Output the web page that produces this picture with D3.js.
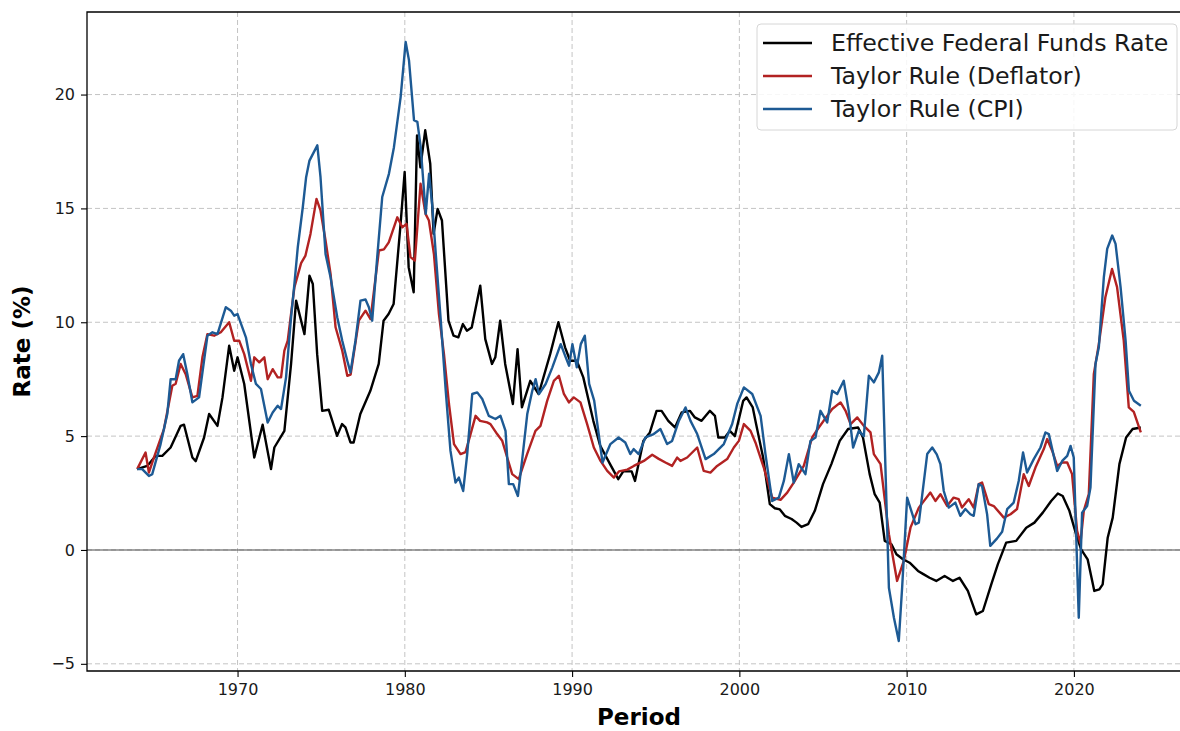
<!DOCTYPE html>
<html>
<head>
<meta charset="utf-8">
<title>Taylor Rule vs Effective Federal Funds Rate</title>
<script src="https://cdn.jsdelivr.net/npm/d3@7"></script>
<style>
  html, body { margin: 0; padding: 0; background: #fff; }
  svg { display: block; font-family: "DejaVu Sans", sans-serif; }
</style>
</head>
<body>
<div id="diagram"></div>
<script>
// data: [period, rate %]
const effrPoints = [
  [1964.0, 3.55], [1964.6, 3.69], [1965.1, 4.13], [1965.5, 4.13], [1966.0, 4.5], [1966.6, 5.45],
  [1966.8, 5.5], [1967.3, 4.06], [1967.5, 3.9], [1968.0, 4.94], [1968.3, 5.97], [1968.8, 5.45],
  [1969.1, 6.7], [1969.5, 8.97], [1969.8, 7.87], [1970.0, 8.46], [1970.4, 7.29], [1971.0, 4.06],
  [1971.5, 5.5], [1972.0, 3.55], [1972.2, 4.5], [1972.8, 5.23], [1973.2, 8.17], [1973.5, 10.95],
  [1974.0, 9.48], [1974.3, 12.05], [1974.5, 11.68], [1974.76, 8.6], [1975.06, 6.11], [1975.45, 6.16],
  [1975.95, 5.01], [1976.25, 5.53], [1976.45, 5.38], [1976.75, 4.72], [1976.94, 4.72], [1977.34, 5.97],
  [1977.94, 6.99], [1978.44, 8.17], [1978.73, 10.07], [1979.03, 10.36], [1979.33, 10.8], [1979.73, 14.17],
  [1979.99, 16.6], [1980.23, 12.42], [1980.53, 11.32], [1980.73, 18.2], [1980.93, 16.8], [1981.22, 18.43],
  [1981.52, 16.96], [1981.72, 13.88], [1981.96, 14.98], [1982.22, 14.47], [1982.61, 10.07], [1982.91, 9.41],
  [1983.2, 9.34], [1983.47, 9.92], [1983.71, 9.63], [1984.0, 9.77], [1984.51, 11.61], [1984.81, 9.26],
  [1985.21, 8.17], [1985.41, 8.46], [1985.7, 10.07], [1986.0, 8.17], [1986.46, 6.41], [1986.74, 8.82],
  [1987.0, 6.26], [1987.5, 7.43], [1988.0, 6.85], [1988.69, 8.6], [1989.18, 10.0], [1989.58, 8.9],
  [1989.88, 8.31], [1990.28, 8.31], [1990.67, 7.58], [1991.27, 5.67], [1991.67, 4.6], [1992.27, 3.77],
  [1992.76, 3.11], [1993.06, 3.45], [1993.56, 3.45], [1993.76, 3.03], [1994.26, 4.79], [1994.65, 5.16],
  [1995.05, 6.11], [1995.35, 6.11], [1995.75, 5.67], [1996.15, 5.38], [1996.55, 6.04], [1997.04, 6.11],
  [1997.34, 5.82], [1997.74, 5.67], [1998.24, 6.11], [1998.54, 5.89], [1998.74, 4.94], [1999.13, 4.94],
  [1999.43, 5.23], [1999.73, 5.0], [2000.23, 6.55], [2000.43, 6.7], [2000.8, 6.26], [2001.0, 5.53],
  [2001.42, 4.06], [2001.82, 2.01], [2002.12, 1.83], [2002.42, 1.78], [2002.72, 1.5], [2003.12, 1.36],
  [2003.42, 1.2], [2003.71, 1.01], [2004.11, 1.13], [2004.51, 1.72], [2005.0, 2.89], [2005.5, 3.77],
  [2006.0, 4.79], [2006.5, 5.31], [2007.1, 5.38], [2007.39, 4.94], [2007.79, 3.33], [2008.09, 2.45],
  [2008.39, 2.08], [2008.69, 0.4], [2009.09, 0.25], [2009.39, -0.19], [2009.78, -0.41], [2010.18, -0.56],
  [2010.68, -0.92], [2011.0, -1.06], [2011.37, -1.22], [2011.77, -1.36], [2012.27, -1.14], [2012.77, -1.36],
  [2013.16, -1.22], [2013.66, -1.8], [2014.16, -2.83], [2014.56, -2.68], [2015.06, -1.51], [2015.45, -0.63],
  [2015.95, 0.32], [2016.55, 0.4], [2017.15, 0.98], [2017.64, 1.2], [2018.14, 1.64], [2018.64, 2.15],
  [2019.04, 2.48], [2019.33, 2.37], [2019.73, 1.72], [2020.13, 0.69], [2020.43, 0.03], [2020.82, -0.41],
  [2021.22, -1.8], [2021.52, -1.73], [2021.72, -1.51], [2022.02, 0.54], [2022.32, 1.42], [2022.72, 3.77],
  [2023.12, 4.94], [2023.51, 5.31], [2024.0, 5.38]
];

const deflatorPoints = [
  [1964.0, 3.55], [1964.5, 4.28], [1964.7, 3.4], [1965.0, 4.06], [1965.6, 5.31], [1966.1, 7.21],
  [1966.3, 7.3], [1966.6, 8.17], [1966.9, 7.72], [1967.3, 6.7], [1967.6, 6.77], [1967.9, 8.46],
  [1968.2, 9.48], [1968.6, 9.41], [1969.0, 9.56], [1969.5, 10.0], [1969.8, 9.19], [1970.1, 9.19],
  [1970.4, 8.6], [1970.8, 7.43], [1971.0, 8.46], [1971.3, 8.24], [1971.6, 8.46], [1971.8, 7.5],
  [1972.1, 7.94], [1972.4, 7.58], [1972.6, 7.58], [1972.8, 8.75], [1973.0, 9.19], [1973.4, 11.54],
  [1973.8, 12.6], [1974.06, 12.93], [1974.36, 13.88], [1974.72, 15.42], [1974.96, 14.91], [1975.26, 13.59],
  [1975.56, 12.12], [1975.86, 9.78], [1976.26, 8.75], [1976.56, 7.65], [1976.76, 7.7], [1977.25, 10.07],
  [1977.65, 10.51], [1977.95, 10.14], [1978.45, 13.15], [1978.75, 13.2], [1979.04, 13.51], [1979.55, 14.61],
  [1979.85, 14.17], [1980.1, 14.32], [1980.34, 12.86], [1980.6, 12.71], [1980.94, 16.08], [1981.24, 14.76],
  [1981.44, 14.47], [1981.74, 13.0], [1982.04, 10.36], [1982.34, 8.6], [1982.64, 6.41], [1982.94, 4.65],
  [1983.33, 4.21], [1983.63, 4.3], [1983.93, 5.09], [1984.23, 5.89], [1984.5, 5.67], [1984.92, 5.6],
  [1985.12, 5.53], [1985.52, 5.09], [1985.82, 4.8], [1986.12, 4.06], [1986.42, 3.33], [1986.81, 3.11],
  [1987.31, 4.21], [1987.81, 5.23], [1988.11, 5.45], [1988.51, 6.55], [1988.91, 7.43], [1989.21, 7.65],
  [1989.51, 6.85], [1989.81, 6.48], [1990.1, 6.7], [1990.5, 6.48], [1990.9, 5.53], [1991.3, 4.5],
  [1991.7, 3.91], [1992.1, 3.47], [1992.5, 3.18], [1992.8, 3.45], [1993.3, 3.53], [1993.69, 3.69],
  [1994.29, 3.91], [1994.79, 4.18], [1995.18, 4.0], [1995.58, 3.84], [1995.98, 3.69], [1996.28, 4.06],
  [1996.48, 3.91], [1996.88, 4.06], [1997.48, 4.5], [1997.87, 3.47], [1998.27, 3.4], [1998.67, 3.69],
  [1999.27, 3.99], [1999.67, 4.5], [1999.97, 4.79], [2000.27, 5.53], [2000.67, 5.23], [2000.96, 4.72],
  [2001.46, 3.62], [2001.96, 2.3], [2002.46, 2.2], [2002.86, 2.52], [2003.25, 2.96], [2003.85, 3.69],
  [2004.35, 4.94], [2004.75, 5.38], [2005.25, 5.89], [2005.55, 6.19], [2006.05, 6.48], [2006.35, 6.11],
  [2006.65, 5.53], [2007.05, 5.82], [2007.44, 5.45], [2007.84, 5.16], [2008.04, 4.21], [2008.44, 3.77],
  [2008.94, 0.69], [2009.43, -1.36], [2009.83, -0.48], [2010.23, 0.98], [2010.73, 1.86], [2011.42, 2.52],
  [2011.72, 2.15], [2012.02, 2.45], [2012.42, 1.93], [2012.81, 2.3], [2013.11, 2.23], [2013.31, 1.86],
  [2013.71, 2.23], [2014.01, 1.86], [2014.31, 2.89], [2014.51, 2.96], [2014.91, 2.01], [2015.21, 1.93],
  [2015.81, 1.42], [2016.21, 1.57], [2016.6, 1.8], [2017.0, 3.33], [2017.3, 2.81], [2017.7, 3.62],
  [2018.2, 4.43], [2018.4, 4.87], [2018.7, 4.36], [2019.0, 3.69], [2019.3, 3.84], [2019.6, 3.84],
  [2019.89, 3.33], [2020.19, 0.84], [2020.39, 0.3], [2020.59, 1.72], [2020.89, 2.45], [2021.19, 7.72],
  [2021.49, 9.04], [2021.88, 11.1], [2022.28, 12.34], [2022.58, 11.54], [2022.98, 9.19], [2023.28, 6.26],
  [2023.58, 6.06], [2024.0, 5.16]
];

const cpiPoints = [
  [1964.0, 3.55], [1964.3, 3.55], [1964.7, 3.25], [1964.9, 3.33], [1965.4, 4.65], [1965.8, 5.97],
  [1966.0, 7.5], [1966.3, 7.5], [1966.5, 8.31], [1966.75, 8.6], [1967.0, 7.72], [1967.3, 6.48],
  [1967.7, 6.7], [1968.2, 9.41], [1968.5, 9.56], [1968.8, 9.48], [1969.3, 10.66], [1969.6, 10.51],
  [1969.8, 10.29], [1970.0, 10.36], [1970.5, 9.34], [1970.8, 8.17], [1971.1, 7.29], [1971.4, 7.07],
  [1971.8, 5.6], [1972.1, 6.04], [1972.4, 6.33], [1972.6, 6.19], [1972.9, 7.58], [1973.2, 10.22],
  [1973.4, 11.69], [1973.6, 13.29], [1973.9, 15.05], [1974.1, 16.37], [1974.3, 17.1], [1974.77, 17.77],
  [1974.96, 16.37], [1975.26, 13.0], [1975.56, 11.98], [1975.96, 10.22], [1976.26, 9.19], [1976.56, 8.31],
  [1976.75, 7.8], [1977.05, 9.19], [1977.35, 10.95], [1977.65, 11.0], [1977.85, 10.66], [1978.05, 10.07],
  [1978.35, 12.86], [1978.65, 15.5], [1979.05, 16.52], [1979.35, 17.69], [1979.75, 19.89], [1980.05, 22.31],
  [1980.25, 21.5], [1980.55, 18.87], [1980.75, 18.8], [1980.95, 17.69], [1981.25, 14.76], [1981.45, 16.52],
  [1981.65, 15.05], [1981.85, 13.0], [1982.15, 10.07], [1982.45, 6.95], [1982.73, 4.35], [1983.03, 2.96],
  [1983.23, 3.18], [1983.49, 2.59], [1983.73, 4.21], [1984.03, 6.85], [1984.33, 6.92], [1984.63, 6.63],
  [1985.02, 5.89], [1985.42, 5.75], [1985.72, 5.89], [1986.02, 5.23], [1986.22, 2.89], [1986.48, 2.89],
  [1986.76, 2.37], [1987.02, 3.99], [1987.32, 5.97], [1987.62, 6.99], [1987.82, 7.5], [1988.02, 6.85],
  [1988.42, 7.29], [1988.82, 8.02], [1989.32, 9.04], [1989.62, 8.46], [1989.82, 8.09], [1990.02, 9.04],
  [1990.28, 8.02], [1990.52, 9.04], [1990.76, 9.41], [1991.02, 7.29], [1991.32, 6.56], [1991.82, 3.84],
  [1992.29, 4.65], [1992.78, 4.94], [1993.18, 4.72], [1993.48, 4.21], [1993.68, 4.43], [1993.98, 4.21],
  [1994.38, 4.94], [1994.88, 5.09], [1995.28, 5.31], [1995.68, 4.65], [1995.98, 4.79], [1996.38, 5.67],
  [1996.78, 6.26], [1997.08, 5.67], [1997.48, 5.09], [1997.98, 3.99], [1998.47, 4.21], [1999.07, 4.65],
  [1999.57, 5.53], [1999.87, 6.41], [2000.27, 7.14], [2000.77, 6.85], [2001.27, 5.89], [2001.56, 4.21],
  [2001.96, 2.15], [2002.36, 2.3], [2002.66, 3.03], [2002.96, 4.21], [2003.25, 2.96], [2003.55, 3.77],
  [2003.95, 3.33], [2004.25, 4.79], [2004.55, 4.94], [2004.85, 6.11], [2005.25, 5.6], [2005.55, 6.99],
  [2005.85, 6.85], [2006.24, 7.43], [2006.54, 6.11], [2006.8, 4.5], [2007.14, 5.23], [2007.44, 5.0],
  [2007.74, 7.65], [2008.04, 7.36], [2008.34, 7.8], [2008.54, 8.53], [2008.94, -1.66], [2009.24, -2.98],
  [2009.53, -4.0], [2009.73, -1.66], [2009.93, 0.98], [2010.03, 2.3], [2010.53, 1.13], [2010.73, 1.2],
  [2011.23, 4.21], [2011.53, 4.5], [2011.8, 4.2], [2012.02, 3.77], [2012.22, 2.59], [2012.52, 1.86],
  [2012.91, 2.08], [2013.21, 1.5], [2013.51, 1.8], [2013.81, 1.57], [2014.01, 1.5], [2014.31, 2.89],
  [2014.51, 2.81], [2014.81, 1.57], [2015.0, 0.18], [2015.41, 0.51], [2015.71, 0.8], [2016.01, 1.79],
  [2016.4, 2.08], [2016.7, 3.03], [2016.96, 4.28], [2017.2, 3.4], [2017.6, 3.99], [2018.0, 4.5],
  [2018.3, 5.16], [2018.5, 5.09], [2019.0, 3.47], [2019.3, 3.91], [2019.6, 4.13], [2019.8, 4.57],
  [2019.99, 4.06], [2020.29, -2.98], [2020.49, 1.64], [2020.79, 1.93], [2020.99, 2.74], [2021.29, 8.17],
  [2021.49, 8.9], [2021.79, 11.98], [2021.99, 13.22], [2022.29, 13.81], [2022.49, 13.44], [2022.79, 11.54],
  [2023.09, 9.19], [2023.29, 6.99], [2023.59, 6.55], [2024.0, 6.33]
];

const seriesNames = ['Effective Federal Funds Rate', 'Taylor Rule (Deflator)', 'Taylor Rule (CPI)'];
const seriesColors = ['#000000', '#b22222', '#1d5a94'];
const xTicks = [1970, 1980, 1990, 2000, 2010, 2020];
const yTicks = [-5, 0, 5, 10, 15, 20];

!(function () {
  'use strict';
  // - - - - - - - - - -
  // declaration
  let
    canvas = undefined,
    svg = undefined,
    xScale = undefined,
    yScale = undefined,
    series = undefined,

    setCanvas = undefined,
    setScales = undefined,
    setGrid = undefined,
    setAxes = undefined,
    setLines = undefined,
    setLegend = undefined;

  canvas = {
    width: 1180,
    height: 731,
    // the right spine sits just past the picture edge, as in the original
    padding: { top: 12, right: -11, bottom: 60, left: 87 }
  };

  series = [effrPoints, deflatorPoints, cpiPoints].map(function (pts, i) {
    return { name: seriesNames[i], color: seriesColors[i], values: pts };
  });

  // methods
  setCanvas = function (contextSelector) {
    svg = d3.select(contextSelector)
      .append('svg')
      .attr('width', canvas.width)
      .attr('height', canvas.height)
      .attr('viewBox', '0 0 ' + canvas.width + ' ' + canvas.height);

    svg.append('rect')
      .attr('width', canvas.width)
      .attr('height', canvas.height)
      .attr('fill', '#fff');

    svg.append('clipPath')
      .attr('id', 'plot-clip')
      .append('rect')
      .attr('x', canvas.padding.left)
      .attr('y', canvas.padding.top)
      .attr('width', canvas.width - canvas.padding.right - canvas.padding.left)
      .attr('height', canvas.height - canvas.padding.bottom - canvas.padding.top);
  };

  setScales = function () {
    let
      all = d3.merge(series.map(function (s) { return s.values; })),
      xExt = d3.extent(all, function (d) { return d[0]; }),
      yExt = d3.extent(all, function (d) { return d[1]; }),
      xPad = (xExt[1] - xExt[0]) * 0.05,
      yPad = (yExt[1] - yExt[0]) * 0.05;

    // matplotlib style 5% margins
    xScale = d3.scaleLinear()
      .domain([xExt[0] - xPad, xExt[1] + xPad])
      .range([canvas.padding.left, canvas.width - canvas.padding.right]);

    yScale = d3.scaleLinear()
      .domain([yExt[0] - yPad, yExt[1] + yPad])
      .range([canvas.height - canvas.padding.bottom, canvas.padding.top]);
  };

  setGrid = function () {
    let g = svg.append('g').attr('clip-path', 'url(#plot-clip)');

    g.selectAll('line.gx')
      .data(xTicks)
      .enter().append('line')
      .attr('class', 'gx')
      .attr('x1', function (d) { return xScale(d); })
      .attr('x2', function (d) { return xScale(d); })
      .attr('y1', canvas.padding.top)
      .attr('y2', canvas.height - canvas.padding.bottom)
      .attr('stroke', '#c4c4c4')
      .attr('stroke-width', 1)
      .attr('stroke-dasharray', '5,3');

    g.selectAll('line.gy')
      .data(yTicks)
      .enter().append('line')
      .attr('class', 'gy')
      .attr('x1', canvas.padding.left)
      .attr('x2', canvas.width - canvas.padding.right)
      .attr('y1', function (d) { return yScale(d); })
      .attr('y2', function (d) { return yScale(d); })
      .attr('stroke', '#c4c4c4')
      .attr('stroke-width', 1)
      .attr('stroke-dasharray', '5,3');

    // zero line
    g.append('line')
      .attr('x1', canvas.padding.left)
      .attr('x2', canvas.width - canvas.padding.right)
      .attr('y1', yScale(0))
      .attr('y2', yScale(0))
      .attr('stroke', '#4a4a4a')
      .attr('stroke-width', 1.1);
  };

  setAxes = function () {
    let
      ty = canvas.height - canvas.padding.bottom,
      tx = canvas.padding.left,
      xAxis = undefined,
      yAxis = undefined;

    xAxis = svg.append('g')
      .attr('transform', 'translate(0, ' + ty + ')')
      .call(d3.axisBottom(xScale)
        .tickValues(xTicks)
        .tickFormat(d3.format('d'))
        .tickSize(6)
        .tickSizeOuter(0)
        .tickPadding(7));

    yAxis = svg.append('g')
      .attr('transform', 'translate(' + tx + ', 0)')
      .call(d3.axisLeft(yScale)
        .tickValues(yTicks)
        .tickSize(6)
        .tickSizeOuter(0)
        .tickPadding(6));

    [xAxis, yAxis].forEach(function (a) {
      a.select('.domain').remove();
      a.selectAll('.tick line').attr('stroke', '#000').attr('stroke-width', 1.1);
      a.selectAll('.tick text')
        .attr('fill', '#1a1a1a')
        .style('font-family', '"DejaVu Sans", sans-serif')
        .style('font-size', '16px');
    });

    // spines
    svg.append('path')
      .attr('d', 'M' + tx + ',' + canvas.padding.top +
        'V' + ty + 'H' + (canvas.width - canvas.padding.right) +
        'V' + canvas.padding.top + 'Z')
      .attr('fill', 'none')
      .attr('stroke', '#000')
      .attr('stroke-width', 1.3);

    // axis titles
    svg.append('text')
      .attr('x', (tx + canvas.width - canvas.padding.right) / 2)
      .attr('y', 725)
      .attr('text-anchor', 'middle')
      .style('font-size', '23px')
      .style('font-weight', 'bold')
      .text('Period');

    svg.append('text')
      .attr('transform', 'translate(30, ' + ((canvas.padding.top + ty) / 2) + ') rotate(-90)')
      .attr('text-anchor', 'middle')
      .style('font-size', '23px')
      .style('font-weight', 'bold')
      .text('Rate (%)');
  };

  setLines = function () {
    let line = d3.line()
      .x(function (d) { return xScale(d[0]); })
      .y(function (d) { return yScale(d[1]); });

    svg.append('g')
      .attr('clip-path', 'url(#plot-clip)')
      .selectAll('path')
      .data(series)
      .enter().append('path')
      .attr('d', function (d) { return line(d.values); })
      .attr('fill', 'none')
      .attr('stroke', function (d) { return d.color; })
      .attr('stroke-width', 2.4)
      .attr('stroke-linejoin', 'round')
      .attr('stroke-linecap', 'butt');
  };

  setLegend = function () {
    let
      box = { x: 757, y: 24, width: 420, height: 106 },
      rowY = [43, 76, 109],
      g = svg.append('g'),
      rows = undefined;

    g.append('rect')
      .attr('x', box.x)
      .attr('y', box.y)
      .attr('width', box.width)
      .attr('height', box.height)
      .attr('rx', 4)
      .attr('fill', '#fff')
      .attr('fill-opacity', 0.85)
      .attr('stroke', '#d6d6d6')
      .attr('stroke-width', 1);

    rows = g.selectAll('g.row')
      .data(series)
      .enter().append('g')
      .attr('class', 'row')
      .attr('transform', function (d, i) { return 'translate(0, ' + rowY[i] + ')'; });

    rows.append('line')
      .attr('x1', 763)
      .attr('x2', 812)
      .attr('stroke', function (d) { return d.color; })
      .attr('stroke-width', 2.4);

    rows.append('text')
      .attr('x', 831)
      .attr('y', 8)
      .attr('fill', '#1a1a1a')
      .style('font-size', '23.7px')
      .text(function (d) { return d.name; });
  };

  // control
  setCanvas('#diagram');
  setScales();
  setGrid();
  setLines();
  setAxes();
  setLegend();
  // - - - - - - - - - -
}());
</script>
</body>
</html>
